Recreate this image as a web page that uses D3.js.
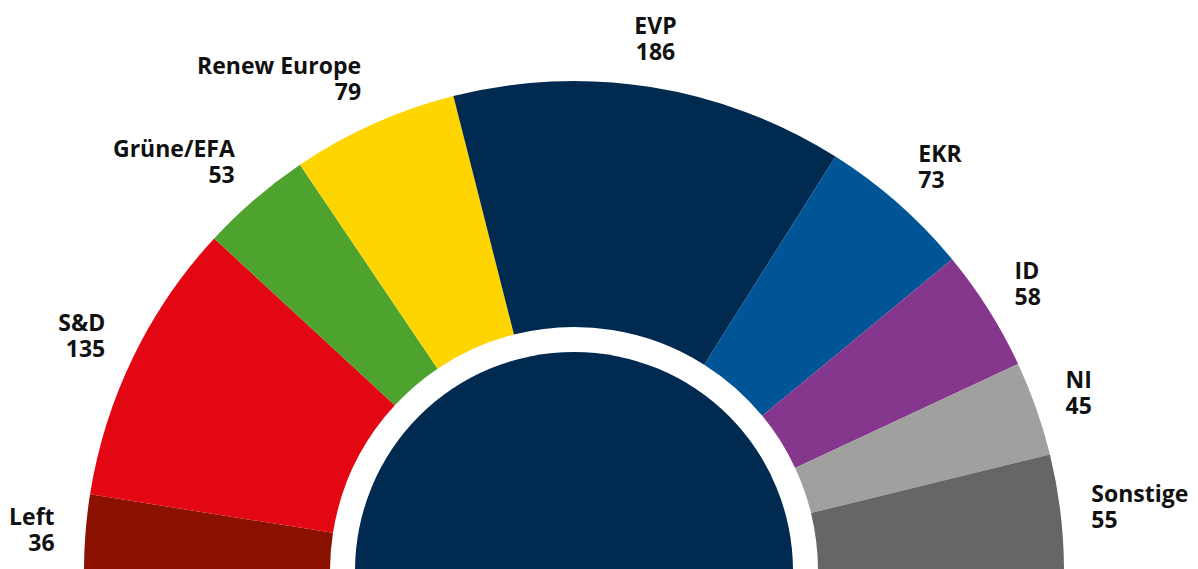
<!DOCTYPE html>
<html>
<head>
<meta charset="utf-8">
<script src="https://cdn.jsdelivr.net/npm/d3@7/dist/d3.min.js"></script>
<style>
  html, body { margin: 0; padding: 0; background: #fff; }
  svg { display: block; }
  .label { font-family: "Open Sans", "Noto Sans", sans-serif; font-weight: 700; font-size: 23px; fill: #111; }
</style>
</head>
<body>
<div id="chart"></div>
<script>
// seats per group, left to right
var parties = ["Left", "S&D", "Grüne/EFA", "Renew Europe", "EVP", "EKR", "ID", "NI", "Sonstige"];
var seats = [36, 135, 53, 79, 186, 73, 58, 45, 55];
var colors = ["#8a1100", "#e30613", "#4ea32f", "#ffd500", "#002a50", "#005597", "#84378c", "#a0a09f", "#666666"];

var width = 1198, height = 569;
var chart = {
  cx : 574,
  cy : 571,
  outer : 490,
  inner : 244,
  core : 219,
  label : { rx : 521, ry : 540 }
};

var svg = d3.select("#chart").append("svg")
  .attr("width", width)
  .attr("height", height);

var g = svg.append("g")
  .attr("transform", "translate(" + chart.cx + "," + chart.cy + ")");

var data = parties.map(function(p, i){
  return { name : p, seats : seats[i], color : colors[i] };
});

var pie = d3.pie()
  .sort(null)
  .value(function(d){ return d.seats; })
  .startAngle(-Math.PI / 2)
  .endAngle(Math.PI / 2);

var arc = d3.arc()
  .innerRadius(chart.inner)
  .outerRadius(chart.outer);

var arcs = pie(data);

g.selectAll("path.seg")
  .data(arcs)
  .enter().append("path")
  .attr("class", "seg")
  .attr("d", arc)
  .attr("fill", function(d){ return d.data.color; });

// center disc
g.append("path")
  .attr("d", d3.arc()
    .innerRadius(0)
    .outerRadius(chart.core)
    .startAngle(-Math.PI / 2)
    .endAngle(Math.PI / 2)())
  .attr("fill", "#002a50");

// labels (name + seats), outside the ring at mid angle
arcs.forEach(function(d){
  var a = (d.startAngle + d.endAngle) / 2;
  var x = chart.label.rx * Math.sin(a);
  var y = -chart.label.ry * Math.cos(a);
  var anchor = Math.abs(Math.sin(a)) < 0.3 ? "middle" : (Math.sin(a) < 0 ? "end" : "start");

  var t = g.append("text")
    .attr("class", "label")
    .attr("text-anchor", anchor)
    .attr("transform", "translate(" + x + "," + y + ")");
  t.append("tspan").attr("x", 0).attr("y", -4).text(d.data.name);
  t.append("tspan").attr("x", 0).attr("y", 22).text(d.data.seats);
});
</script>
</body>
</html>
